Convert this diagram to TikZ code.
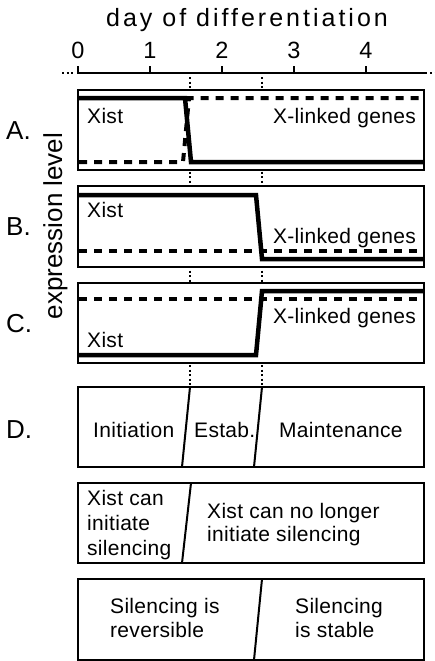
\documentclass[tikz,border=0pt]{standalone}
\usepackage{fontspec}
\setmainfont{Liberation Sans}
\begin{document}
\begin{tikzpicture}[x=1pt,y=-1pt,
  box/.style={draw,fill=white,line width=2pt},
  curve/.style={line width=4.5pt,line join=miter},
  dsh/.style={line width=4pt,dash pattern=on 8pt off 7pt},
  dots/.style={line width=2pt,dash pattern=on 2pt off 2.5pt},
  axisline/.style={line width=2pt},
  divider/.style={line width=2pt},
  txt/.style={inner sep=0pt,font=\fontsize{21}{25}\selectfont\addfontfeature{LetterSpace=1.5}},
  big/.style={inner sep=0pt,font=\fontsize{23.5}{28}\selectfont},
  panel/.style={inner sep=0pt,font=\fontsize{26}{30}\selectfont},
  ttl/.style={inner sep=0pt,font=\fontsize{25}{30}\selectfont\addfontfeature{LetterSpace=12}}]
\useasboundingbox (0,0) rectangle (435,661);
% title and axis
\node[ttl,anchor=base] (title) at (247,27) {day of differentiation};
\draw[axisline] (78,73) -- (427,73);
\draw[dots] (62,73) -- (75,73);
\draw[dots] (430,73) -- (435,73);
\foreach \d/\x in {0/78,1/150,2/222,3/294,4/366}{
  \draw[axisline] (\x,74) -- (\x,66);
  \node[big,anchor=base] (t\d) at (\x,59) {\d};
}
% dotted guides
\draw[dots] (190,77) -- (190,387);
\draw[dots] (262,77) -- (262,387);
% panel A
\draw[box] (78,90) rectangle (424,170);
\draw[dsh] (79,162) -- (183,162) -- (189,98) -- (423,98);
\draw[curve] (79,98) -- (185,98) -- (191,162) -- (423,162);
\node[txt,anchor=base west] (xa) at (87,123) {Xist};
\node[txt,anchor=base east] (ga) at (416,123) {X-linked genes};
% panel B
\draw[box] (78,186) rectangle (424,267);
\draw[dsh] (79,251) -- (423,251);
\draw[curve] (79,195) -- (256,195) -- (262,259) -- (423,259);
\node[txt,anchor=base west] (xb) at (87,217) {Xist};
\node[txt,anchor=base east] (gb) at (416,243) {X-linked genes};
% panel C
\draw[box] (78,283) rectangle (424,363);
\draw[dsh] (79,299) -- (423,299);
\draw[curve] (79,355) -- (256,355) -- (262,291) -- (423,291);
\node[txt,anchor=base east] (gc) at (416,323) {X-linked genes};
\node[txt,anchor=base west] (xc) at (87,347) {Xist};
% panel D
\draw[box] (78,387) rectangle (424,467);
\draw[divider] (190,387) -- (182,467);
\draw[divider] (262,387) -- (254,467);
\node[txt,anchor=base west] (d1) at (93,437) {Initiation};
\node[txt,anchor=base west] (d2) at (194,437) {Estab.};
\node[txt,anchor=base west] (d3) at (279,437) {Maintenance};
% panel E
\draw[box] (78,483) rectangle (424,563);
\draw[divider] (191,483) -- (182,563);
\node[txt,anchor=base west] (e1) at (87,505) {Xist can};
\node[txt,anchor=base west] (e2) at (87,530) {initiate};
\node[txt,anchor=base west] (e3) at (87,555) {silencing};
\node[txt,anchor=base west] (e4) at (207,518) {Xist can no longer};
\node[txt,anchor=base west] (e5) at (207,541) {initiate silencing};
% panel F
\draw[box] (78,579) rectangle (424,660);
\draw[divider] (262,579) -- (254,660);
\node[txt,anchor=base west] (f1) at (110,613) {Silencing is};
\node[txt,anchor=base west] (f2) at (110,637) {reversible};
\node[txt,anchor=base west] (f3) at (295,613) {Silencing};
\node[txt,anchor=base west] (f4) at (295,637) {is stable};
% panel letters
\node[panel,anchor=base west] (la) at (6,139) {A.};
\node[panel,anchor=base west] (lb) at (6,235) {B.};
\node[panel,anchor=base west] (lc) at (6,332) {C.};
\node[panel,anchor=base west] (ld) at (6,438) {D.};
\node[panel,anchor=base,rotate=90] (yl) at (62,226) {expression level};
\end{tikzpicture}
\end{document}
